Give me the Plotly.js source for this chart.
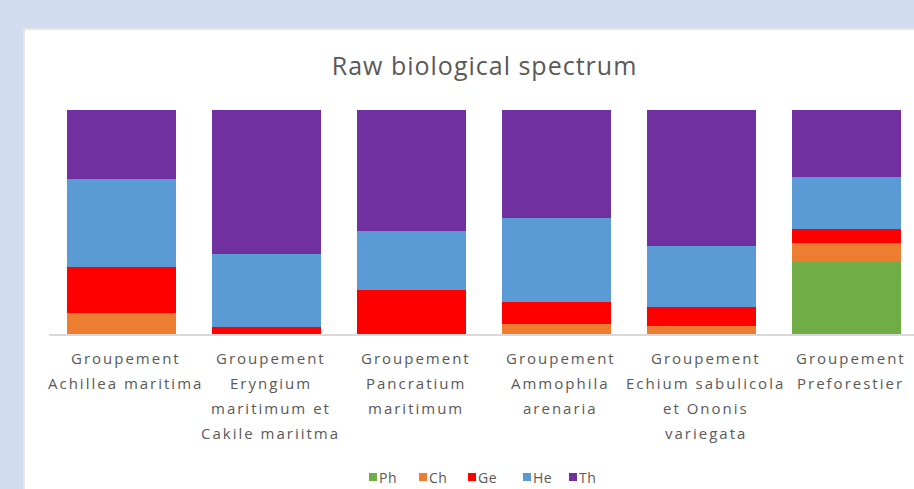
<!DOCTYPE html>
<html>
<head>
<meta charset="utf-8">
<script src="https://cdn.plot.ly/plotly-3.0.1.min.js"></script>
<style>
  html, body { margin: 0; padding: 0; width: 914px; height: 489px; overflow: hidden; background: #d1ddef; }
  #card { position: absolute; left: 25px; top: 30px; width: 919px; height: 459px; background: #ffffff; outline: 2px solid #e6e6e6; }
  #chart { width: 919px; height: 459px; }
</style>
</head>
<body>
<div id="card"><div id="chart"></div></div>
<script>
const categories = [
  "Groupement Achillea maritima",
  "Groupement Eryngium maritimum et Cakile mariitma",
  "Groupement Pancratium maritimum",
  "Groupement Ammophila arenaria",
  "Groupement Echium sabulicola et Ononis variegata",
  "Groupement Preforestier"
];
const categoryLines = [
  ["Groupement", "Achillea maritima"],
  ["Groupement", "Eryngium", "maritimum et", "Cakile mariitma"],
  ["Groupement", "Pancratium", "maritimum"],
  ["Groupement", "Ammophila", "arenaria"],
  ["Groupement", "Echium sabulicola", "et Ononis", "variegata"],
  ["Groupement", "Preforestier"]
];
const seriesNames = ["Ph", "Ch", "Ge", "He", "Th"];
const Ph = [0, 0, 0, 0, 0, 32.1];
const Ch = [9.2, 0, 0, 4.5, 3.7, 8.6];
const Ge = [20.7, 3.0, 19.8, 9.7, 8.2, 6.0];
const He = [39.3, 32.7, 26.2, 37.8, 27.5, 23.5];
const Th = [30.8, 64.3, 54.0, 48.0, 60.6, 29.8];
const seriesValues = [Ph, Ch, Ge, He, Th];
const seriesColors = ["#70ad47", "#ed7d31", "#ff0000", "#5b9bd5", "#7030a0"];

const traces = seriesNames.map((name, i) => ({
  type: "bar",
  name: name,
  x: categories,
  y: seriesValues[i],
  marker: { color: seriesColors[i], line: { width: 0 } },
  hoverinfo: "skip",
  showlegend: false
}));

const textColor = "#595959";

// plot-area geometry (page pixels) used to place the custom legend
const plotLeftPx = 49, plotWidthPx = 865, plotBottomPx = 334, plotHeightPx = 224;
const toPaperX = p => (p - plotLeftPx) / plotWidthPx;
const toPaperY = p => (plotBottomPx - p) / plotHeightPx;

const lineOffsets = [24, 49, 74, 99];
const annotations = [];
categoryLines.forEach((lines, ci) => {
  lines.forEach((txt, li) => {
    annotations.push({
      x: categories[ci], xref: "x",
      y: 0, yref: "paper",
      yanchor: "middle", xanchor: "center",
      xshift: 4,
      yshift: -lineOffsets[li],
      text: '<span style="letter-spacing:2px">' + txt + '</span>',
      showarrow: false,
      font: { family: "Open Sans", size: 15, color: textColor }
    });
  });
});

// custom compact legend (square + label), matching the reference layout
const legendItemStartPx = [369, 419, 468, 523, 569];
const legendCenterPx = 477;
const shapes = [];
seriesNames.forEach((name, i) => {
  const s = legendItemStartPx[i];
  shapes.push({
    type: "rect", xref: "paper", yref: "paper",
    x0: toPaperX(s), x1: toPaperX(s + 8),
    y0: toPaperY(legendCenterPx + 4), y1: toPaperY(legendCenterPx - 4),
    fillcolor: seriesColors[i], line: { width: 0 }
  });
  annotations.push({
    x: toPaperX(s + 8), xref: "paper",
    y: toPaperY(legendCenterPx), yref: "paper",
    xanchor: "left", yanchor: "middle",
    text: '<span style="letter-spacing:0.5px">' + name + '</span>',
    showarrow: false,
    font: { family: "Open Sans", size: 14, color: textColor }
  });
});

const layout = {
  width: 919, height: 459,
  margin: { l: 24, r: 30, t: 80, b: 155 },
  paper_bgcolor: "#ffffff",
  plot_bgcolor: "#ffffff",
  barmode: "stack",
  bargap: 0.25,
  showlegend: false,
  title: {
    text: '<span style="letter-spacing:1px">Raw biological spectrum</span>',
    font: { family: "Open Sans", size: 25, color: textColor },
    x: 0.5, xanchor: "center", xref: "container",
    y: 1 - 36 / 459, yanchor: "middle", yref: "container"
  },
  xaxis: {
    type: "category",
    range: [-0.5, 5.4655],
    showticklabels: false,
    ticks: "",
    showgrid: false,
    zeroline: false,
    showline: true,
    linecolor: "#d9d9d9",
    linewidth: 1.5
  },
  yaxis: {
    range: [0, 100],
    visible: false,
    showgrid: false,
    zeroline: false
  },
  shapes: shapes,
  annotations: annotations
};

Plotly.newPlot("chart", traces, layout, { displayModeBar: false, staticPlot: true });
</script>
</body>
</html>
